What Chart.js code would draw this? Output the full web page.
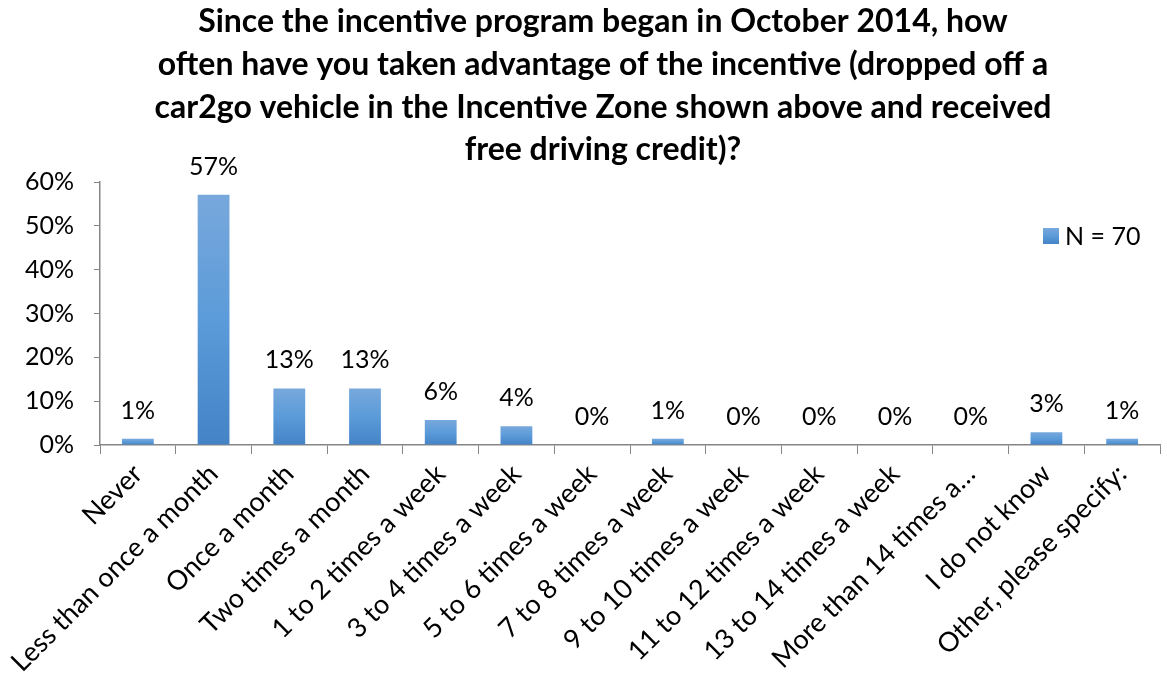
<!DOCTYPE html>
<html>
<head>
<meta charset="utf-8">
<script src="https://cdn.jsdelivr.net/npm/chart.js@4"></script>
<style>
  html, body { margin: 0; padding: 0; background: #fff; }
  #wrap { width: 1167px; height: 681px; }
</style>
</head>
<body>
<div id="wrap"><canvas id="grafico" width="1167" height="681"></canvas></div>
<script>
// dados do gráfico (N = 70)
const categorias = [
  "Never",
  "Less than once a month",
  "Once a month",
  "Two times a month",
  "1 to 2 times a week",
  "3 to 4 times a week",
  "5 to 6 times a week",
  "7 to 8 times a week",
  "9 to 10 times a week",
  "11 to 12 times a week",
  "13 to 14 times a week",
  "More than 14 times a…",
  "I do not know",
  "Other, please specify:"
];
const percentuais = [1.4, 57.1, 12.9, 12.9, 5.7, 4.3, 0, 1.4, 0, 0, 0, 0, 2.9, 1.4];
const rotuloSerie = "N = 70";
const ticksY = [0, 10, 20, 30, 40, 50, 60];
const titulo = [
  "Since the incentive program began in October 2014, how",
  "often have you taken advantage of the incentive (dropped off a",
  "car2go vehicle in the Incentive Zone shown above and received",
  "free driving credit)?"
];

const fonte = "Lato, 'Open Sans', sans-serif";
const corEixo = "#868686";

// gradiente de cada barra (claro em cima, escuro embaixo)
function gradiente(ctx, topo, base) {
  const g = ctx.createLinearGradient(0, topo, 0, base);
  g.addColorStop(0, "#78a8dc");
  g.addColorStop(0.5, "#5b9bd9");
  g.addColorStop(1, "#4483c6");
  return g;
}

function corBarra(context) {
  const chart = context.chart;
  if (!chart.chartArea || context.type !== "data") return "#5b9bd5";
  const y = chart.scales.y;
  const topo = y.getPixelForValue(context.parsed.y);
  const base = y.getPixelForValue(0);
  if (base - topo < 1) return "#5b9bd5";
  return gradiente(chart.ctx, topo, base);
}

// título (centralizado como no original), rótulos de valor e legenda
const rotulosPlugin = {
  id: "rotulos",
  afterDatasetsDraw(chart) {
    const ctx = chart.ctx;
    const meta = chart.getDatasetMeta(0);
    ctx.save();

    ctx.font = "bold 32px " + fonte;
    ctx.fillStyle = "#000";
    ctx.textAlign = "center";
    ctx.textBaseline = "middle";
    titulo.forEach((linha, i) => {
      ctx.fillText(linha, 603, 22 + i * 42.6);
    });

    ctx.font = "25px " + fonte;
    ctx.textBaseline = "alphabetic";
    meta.data.forEach((bar, i) => {
      ctx.fillText(Math.round(percentuais[i]) + "%", bar.x, bar.y - 20);
    });

    // legenda
    const lx = 1043, ly = 228;
    ctx.fillStyle = gradiente(ctx, ly, ly + 16);
    ctx.fillRect(lx, ly, 16, 16);
    ctx.fillStyle = "#000";
    ctx.textAlign = "left";
    ctx.textBaseline = "middle";
    ctx.fillText(chart.data.datasets[0].label, lx + 22, ly + 9);
    ctx.restore();
  }
};

const ctx = document.getElementById("grafico").getContext("2d");
new Chart(ctx, {
  type: "bar",
  data: {
    labels: categorias,
    datasets: [
      {
        label: rotuloSerie,
        data: percentuais,
        backgroundColor: corBarra,
        borderWidth: 0,
        categoryPercentage: 1,
        barPercentage: 0.42
      }
    ]
  },
  options: {
    responsive: false,
    animation: false,
    layout: { padding: { left: 0, right: 7, top: 182, bottom: 0 } },
    plugins: {
      legend: { display: false },
      tooltip: { enabled: false },
      title: { display: false }
    },
    scales: {
      x: {
        grid: {
          offset: true,
          drawOnChartArea: false,
          color: corEixo,
          tickLength: 9
        },
        border: { color: corEixo, width: 1.5 },
        ticks: {
          color: "#000",
          font: { family: fonte, size: 27 },
          maxRotation: 45,
          minRotation: 45,
          autoSkip: false,
          padding: 4
        },
        afterFit(scale) {
          scale.height = 236;
        }
      },
      y: {
        min: 0,
        max: 60,
        afterBuildTicks(scale) {
          scale.ticks = ticksY.map(v => ({ value: v }));
        },
        grid: {
          drawOnChartArea: false,
          color: corEixo,
          tickLength: 6
        },
        border: { color: corEixo, width: 1.5 },
        ticks: {
          color: "#000",
          font: { family: fonte, size: 25 },
          padding: 20,
          callback: v => v + "%"
        },
        afterFit(scale) {
          scale.width = 100;
        }
      }
    }
  },
  plugins: [rotulosPlugin]
});
</script>
</body>
</html>
